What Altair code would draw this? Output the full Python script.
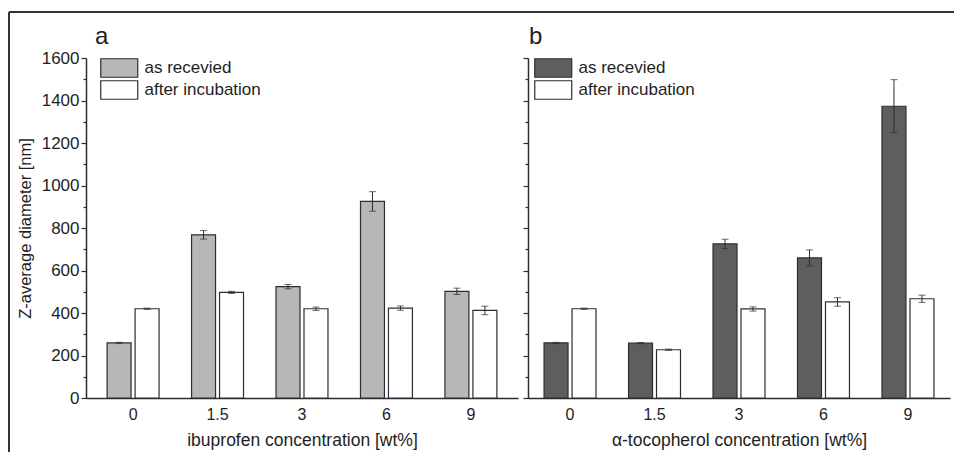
import altair as alt
import pandas as pd

categories = ["0", "1.5", "3", "6", "9"]
series = ["as recevied", "after incubation"]

ibu_received = [259, 768, 524, 925, 502]
ibu_received_err = [3, 20, 10, 46, 15]
ibu_incubated = [420, 497, 420, 423, 412]
ibu_incubated_err = [3, 5, 8, 10, 20]

toc_received = [259, 258, 725, 659, 1373]
toc_received_err = [3, 3, 22, 38, 125]
toc_incubated = [420, 227, 419, 452, 467]
toc_incubated_err = [3, 3, 10, 20, 17]

y_ticks = list(range(0, 1700, 100))

FONT = "Liberation Sans"
DARK = "#2f2b35"
TEXT = "#1e1e1e"


def frame(rec, rec_err, inc, inc_err):
    rows = []
    for name, vals, errs in ((series[0], rec, rec_err), (series[1], inc, inc_err)):
        for c, v, e in zip(categories, vals, errs):
            rows.append({"cat": c, "series": name, "value": v, "lo": v - e, "hi": v + e})
    return pd.DataFrame(rows)


def panel(df, fill_range, xtitle, letter, letter_x, legend_x, first, width, pad_outer):
    x = alt.X(
        "cat:N",
        sort=categories,
        scale=alt.Scale(paddingInner=0.385, paddingOuter=pad_outer),
        axis=alt.Axis(
            title=xtitle, labelAngle=0, ticks=False, tickSize=0, labelPadding=8,
            labelFontSize=16, titleFontSize=17.5, titlePadding=9,
            labelFont=FONT, titleFont=FONT, titleFontWeight="normal",
            labelColor=TEXT, titleColor=TEXT, domainColor=DARK, domainWidth=1.5,
        ),
    )
    xo = alt.XOffset("series:N", sort=series, scale=alt.Scale(paddingInner=0.143))
    yaxis = alt.Axis(
        title="Z-average diameter [nm]" if first else None,
        values=y_ticks,
        labels=first,
        format="d",
        labelExpr="datum.value % 200 === 0 ? datum.label : ''",
        tickSize={"condition": {"test": "datum.value % 200 === 0", "value": 5}, "value": 3},
        tickColor=DARK, tickWidth=1.2, domainColor=DARK, domainWidth=1.5,
        grid=False, labelFontSize=17, titleFontSize=16.5, labelPadding=2, titlePadding=8,
        labelFont=FONT, titleFont=FONT, titleFontWeight="normal",
        labelColor=TEXT, titleColor=TEXT,
    )
    yscale = alt.Scale(domain=[0, 1600], nice=False)
    base = alt.Chart(df)
    bars = base.mark_bar(stroke=DARK, strokeWidth=1.2).encode(
        x=x, xOffset=xo,
        y=alt.Y("value:Q", scale=yscale, axis=yaxis),
        fill=alt.Fill(
            "series:N", sort=series,
            scale=alt.Scale(domain=series, range=fill_range),
            legend=alt.Legend(
                orient="none", legendX=legend_x + 9.25, legendY=0, title=None,
                symbolType="M-2,-1H2V1H-2Z", symbolSize=342,
                symbolStrokeColor=DARK, symbolStrokeWidth=1.2,
                labelFontSize=17, labelFont=FONT, labelColor=TEXT,
                labelOffset=15.25, rowPadding=-3.5, padding=0,
            ),
        ),
    )
    rules = base.mark_rule(color=DARK, strokeWidth=1).encode(
        x=x, xOffset=xo,
        y=alt.Y("lo:Q", scale=yscale, axis=yaxis), y2="hi:Q",
    )
    cap_lo = base.mark_tick(color=DARK, size=7, thickness=1).encode(
        x=x, xOffset=xo, y=alt.Y("lo:Q", scale=yscale, axis=yaxis)
    )
    cap_hi = base.mark_tick(color=DARK, size=7, thickness=1).encode(
        x=x, xOffset=xo, y=alt.Y("hi:Q", scale=yscale, axis=yaxis)
    )
    one = alt.Chart(pd.DataFrame({"k": [0]}))
    tag = one.mark_text(
        fontSize=24, font=FONT, color=TEXT, align="left", baseline="alphabetic"
    ).encode(x=alt.value(letter_x), y=alt.value(-14), text=alt.value(letter))
    layers = [bars, rules, cap_lo, cap_hi, tag]
    if first:
        top = one.mark_rule(color="#333", strokeWidth=2).encode(
            x=alt.value(-77), x2=alt.value(868), y=alt.value(-46)
        )
        left = one.mark_rule(color="#333", strokeWidth=2).encode(
            x=alt.value(-77), y=alt.value(-46), y2=alt.value(394)
        )
        layers += [top, left]
    return alt.layer(*layers).properties(width=width, height=340)


left_panel = panel(
    frame(ibu_received, ibu_received_err, ibu_incubated, ibu_incubated_err),
    ["#b7b7b7", "#ffffff"], "ibuprofen concentration [wt%]", "a", 9, 14, True, 432, 0.25,
)
right_panel = panel(
    frame(toc_received, toc_received_err, toc_incubated, toc_incubated_err),
    ["#5e5e5e", "#ffffff"], "α-tocopherol concentration [wt%]", "b", 1, 6, False, 422, 0.19,
)

chart = (
    alt.hconcat(left_panel, right_panel, spacing=10, bounds="flush")
    .resolve_scale(x="independent", y="independent", fill="independent", xOffset="independent")
    .resolve_legend(fill="independent")
    .properties(padding={"left": 8, "top": 11, "right": 0, "bottom": 0}, background="white")
    .configure_view(strokeWidth=0, stroke="transparent")
)

chart.save("out.html", embed_options={"renderer": "svg", "actions": False})
